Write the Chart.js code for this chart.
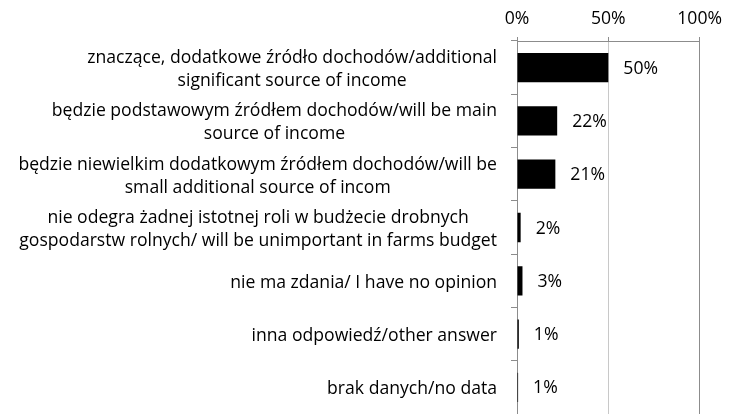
<!DOCTYPE html>
<html>
<head>
<meta charset="utf-8">
<script src="https://cdn.jsdelivr.net/npm/chart.js@4"></script>
<style>
  html, body { margin: 0; padding: 0; background: #fff; overflow: hidden; }
  #wrap { width: 729px; height: 414px; }
</style>
</head>
<body>
<div id="wrap"><canvas id="chart" width="729" height="414"></canvas></div>
<script>
// answers (each label split into the lines shown in the picture)
const categories = [
    ["znaczące, dodatkowe źródło dochodów/additional", "significant source of income"],
    ["będzie podstawowym źródłem dochodów/will be main", "source of income"],
    ["będzie niewielkim dodatkowym źródłem dochodów/will be", "small additional source of incom"],
    ["nie odegra żadnej istotnej roli w budżecie drobnych", "gospodarstw rolnych/ will be unimportant in farms budget"],
    ["nie ma zdania/ I have no opinion"],
    ["inna odpowiedź/other answer"],
    ["brak danych/no data"]
];
const shares = [50, 22, 21, 2, 3, 1, 0.6];
const shareLabels = ["50%", "22%", "21%", "2%", "3%", "1%", "1%"];
const xTicks = [0, 50, 100];

const FONT = "'Open Sans', sans-serif";
const FONT_SIZE = 17.6;
const AXIS_GREY = "#8c8c8c";

// category labels: block right-aligned next to the axis, lines centred inside it
const categoryLabels = {
    id: "categoryLabels",
    afterDraw(chart) {
        const { ctx } = chart;
        const y = chart.scales.y;
        const right = y.right - 20;
        const lineH = 23;
        ctx.save();
        ctx.font = FONT_SIZE + "px " + FONT;
        ctx.fillStyle = "#000";
        ctx.textAlign = "center";
        ctx.textBaseline = "middle";
        categories.forEach((lines, i) => {
            const cy = y.getPixelForValue(i) + 2;
            const w = Math.max(...lines.map(l => ctx.measureText(l).width));
            const cx = right - w / 2;
            const top = cy - (lines.length - 1) * lineH / 2;
            lines.forEach((l, j) => ctx.fillText(l, cx, top + j * lineH));
        });
        ctx.restore();
    }
};

// value labels to the right of each bar
const valueLabels = {
    id: "valueLabels",
    afterDatasetsDraw(chart) {
        const { ctx } = chart;
        const meta = chart.getDatasetMeta(0);
        ctx.save();
        ctx.font = FONT_SIZE + "px " + FONT;
        ctx.fillStyle = "#000";
        ctx.textAlign = "left";
        ctx.textBaseline = "middle";
        meta.data.forEach((bar, i) => {
            ctx.fillText(shareLabels[i], bar.x + 15, bar.y + 1);
        });
        ctx.restore();
    }
};

new Chart(document.getElementById("chart"), {
    type: "bar",
    data: {
        labels: categories.map(c => c.join(" ")),
        datasets: [{
            data: shares,
            backgroundColor: "#000",
            borderWidth: 0,
            categoryPercentage: 1,
            barPercentage: 0.55
        }]
    },
    options: {
        indexAxis: "y",
        responsive: false,
        animation: false,
        events: [],
        layout: { padding: { left: 0, right: 29, top: 0, bottom: 0 } },
        plugins: {
            legend: { display: false },
            tooltip: { enabled: false }
        },
        scales: {
            x: {
                position: "top",
                min: 0,
                max: 100,
                afterFit: (s) => { s.height = 41; },
                afterBuildTicks: (s) => { s.ticks = xTicks.map(v => ({ value: v })); },
                ticks: {
                    color: "#000",
                    padding: 7,
                    font: { family: FONT, size: FONT_SIZE },
                    callback: (v) => v + "%"
                },
                grid: {
                    // middle gridline dotted and light, the 100% one solid like the axes
                    color: (c) => c.index === 1 ? "#c8c8c8" : AXIS_GREY,
                    borderDash: (c) => c.index === 1 ? [2, 2] : [],
                    tickColor: AXIS_GREY,
                    tickBorderDash: [],
                    tickLength: 4,
                    lineWidth: 1
                },
                border: { color: AXIS_GREY, width: 1 }
            },
            y: {
                afterFit: (s) => { s.width = 517; },
                ticks: { display: false },
                grid: {
                    offset: true,
                    drawOnChartArea: false,
                    tickColor: AXIS_GREY,
                    tickLength: 6
                },
                border: { color: AXIS_GREY, width: 1 }
            }
        }
    },
    plugins: [categoryLabels, valueLabels]
});
</script>
</body>
</html>
